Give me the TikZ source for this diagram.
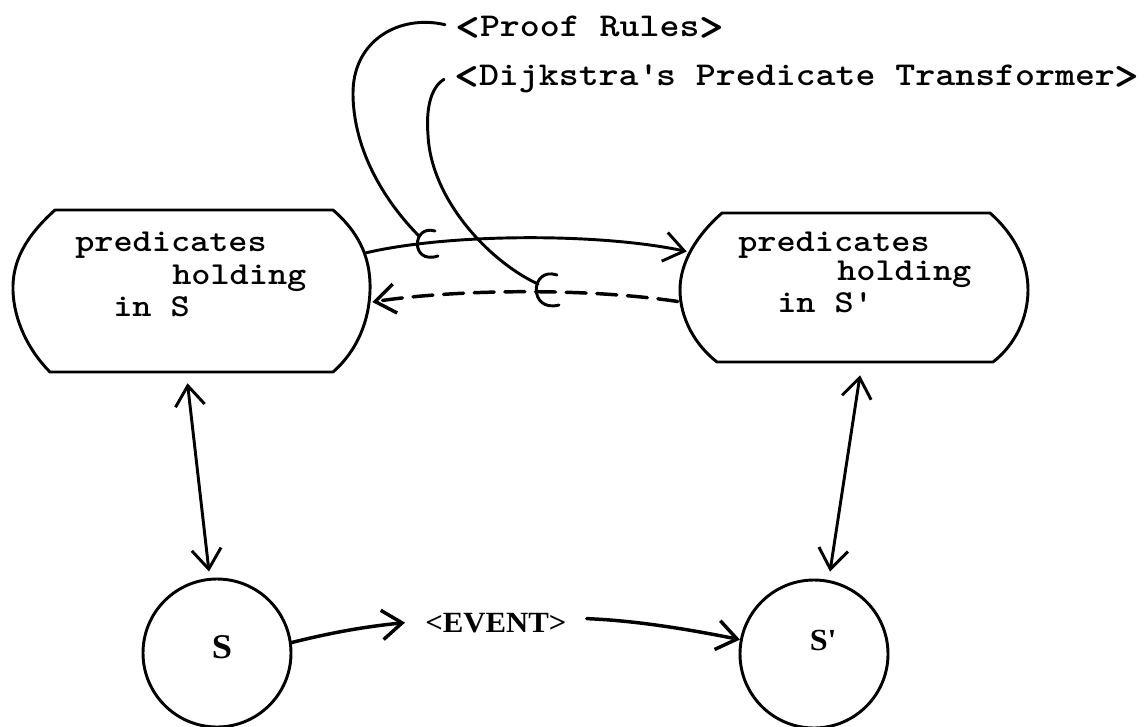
\documentclass[tikz,border=0pt]{standalone}
\usepackage{fontspec}
\usepackage{graphicx}
\usetikzlibrary{arrows.meta,calc}
\newfontfamily\twfont{lmmonolt10-bold.otf}[FakeStretch=1.14]
\newfontfamily\evfont{Liberation Serif}[FakeStretch=1.05]
\newcommand\chevL{\raisebox{-3pt}{\fontsize{31}{31}\selectfont<}}
\newcommand\chevR{\raisebox{-3pt}{\fontsize{31}{31}\selectfont>}}
\begin{document}
\begin{tikzpicture}[x=0.75pt,y=-0.75pt,
  ink/.style={line width=2.2pt,line cap=round,line join=round},
  hole/.style={draw=none,inner sep=0pt},
  circ/.style={circle,draw,line width=2.2pt,minimum size=111pt,inner sep=0pt},
  boxtext/.style={anchor=base west,inner sep=0pt,font=\twfont\fontsize{24}{24}\selectfont},
  toptext/.style={anchor=base west,inner sep=0pt,font=\twfont\fontsize{25}{25}\selectfont},
  evtext/.style={font=\evfont\bfseries\fontsize{22}{22}\selectfont},
  vtip/.tip={Straight Barb[length=15pt,width=22pt]},
  conn/.style={ink,-vtip},
  both/.style={ink,vtip-vtip},
  dashline/.style={dash pattern=on 15pt off 8pt,line width=2.6pt},
]
\useasboundingbox (0,0) rectangle (1148,727);

% left box
\node[hole,minimum width=267.75pt,minimum height=121.5pt] (L) at (191.5,291) {};
\draw[ink] (55,210) -- (333,210) .. controls (362,235) and (371,262) .. (370,291)
  .. controls (369,320) and (358,350) .. (333,372) -- (50,372)
  .. controls (28,350) and (14,320) .. (13,291) .. controls (12,262) and (25,237) .. (55,210) -- cycle;

% right box
\node[hole,minimum width=261pt,minimum height=111.75pt] (R) at (854,287.5) {};
\draw[ink] (722,213) -- (990,213) .. controls (1015,235) and (1028,262) .. (1028,290)
  .. controls (1028,318) and (1015,345) .. (993,362) -- (717,362)
  .. controls (695,345) and (680,318) .. (680,290) .. controls (680,262) and (697,235) .. (722,213) -- cycle;

% box texts
\node[boxtext] (L1) at (75,252) {predicates};
\node[boxtext] (L2) at (172,284) {holding};
\node[boxtext] (L3) at (113,316) {in S};
\node[boxtext] (R1) at (738,252) {predicates};
\node[boxtext] (R2) at (837,280) {holding};
\node[boxtext] (R3) at (777,312) {in S\textquotesingle};

% top labels
\node[toptext] (P) at (455,37) {\chevL Proof Rules\chevR};
\node[toptext] (D) at (454,86) {\chevL Dijkstra\textquotesingle s Predicate Transformer\chevR};

% states
\node[circ,evtext,font=\evfont\bfseries\fontsize{26}{26}\selectfont] (S) at (217,653)
  {\hspace{7.5pt}\raisebox{-3.75pt}[0pt][0pt]{S}};
\node[circ,evtext,font=\evfont\bfseries\fontsize{23}{23}\selectfont] (Sp) at (814,654)
  {\hspace{13.5pt}\raisebox{2.6pt}[0pt][0pt]{S\textquotesingle}};
\node[anchor=base west,inner sep=0pt,evtext] (E) at (425,632) {<EVENT>};

% connectors between boxes
\draw[conn] ($(L.east)+(-5,-38)$) .. controls (450,233) and (600,233) .. ($(R.west)+(7,-36)$);
\draw[conn,dashline] ($(R.west)+(-2,14)$) .. controls (580,287) and (450,290) .. ($(L.east)+(2,11)$);

% vertical double arrows
\draw[both] ($(L.south)+(-4,11)$) -- ($(S.north)+(-8,-6)$);
\draw[both] ($(R.south)+(6,13)$) -- ($(Sp.north)+(16,-7)$);

% event arrows
\draw[conn,line width=2.6pt] (S.8) .. controls +(40,-10) and +(-40,4) .. ($(E.west)+(-20,0)$);
\draw[conn,line width=2.6pt] ($(E.east)+(20,-4)$) .. controls +(50,2) and +(-50,-10) .. (Sp.169);

% hooks
\coordinate (h1) at (419,236);
\coordinate (h2) at (538,284);
\draw[ink] ($(P.west)+(-10,-4)$) .. controls (400,14) and (352,40) .. (353,95)
  .. controls (354,160) and (395,212) .. (h1);
\draw[ink] (435,231) .. controls (412,224) and (410,265) .. (438,256);
\draw[ink] ($(D.west)+(-10,0)$) .. controls (430,88) and (426,110) .. (428,135)
  .. controls (431,200) and (490,262) .. (h2);
\draw[ink] (557,275) .. controls (530,266) and (528,313) .. (559,305);
\end{tikzpicture}
\end{document}
